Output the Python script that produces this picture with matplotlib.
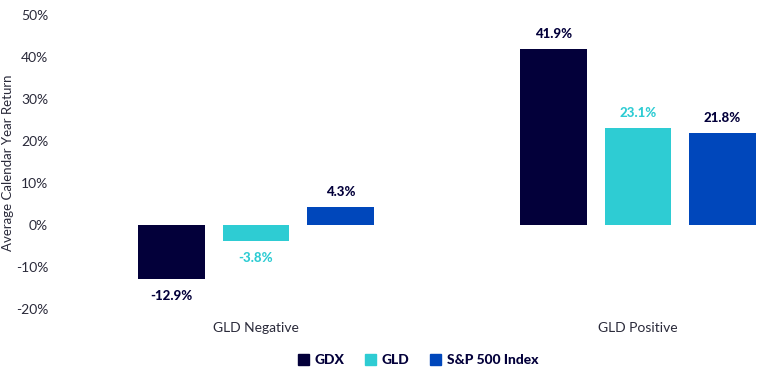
import matplotlib.pyplot as plt
from matplotlib.patches import Patch
import numpy as np

plt.rcParams['font.family'] = ['Lato', 'DejaVu Sans']

# data
groups = ["GLD Negative", "GLD Positive"]
series = ["GDX", "GLD", "S&P 500 Index"]
gdx = [-12.9, 41.9]
gld = [-3.8, 23.1]
spx = [4.3, 21.8]
colors = ["#03003A", "#2ECCD3", "#0047BB"]
label_colors = ["#03003A", "#2ECCD3", "#03003A"]
yticks = [-20, -10, 0, 10, 20, 30, 40, 50]

W, H = 762, 376
fig = plt.figure(figsize=(W / 100, H / 100), dpi=100)
ax = fig.add_axes([55 / W, 1 - 318 / H, (W - 55) / W, 308 / H])

x = np.arange(len(groups))
width = 0.175
offsets = [-0.221, 0, 0.221]
for vals, off, c, lc in zip([gdx, gld, spx], offsets, colors, label_colors):
    bars = ax.bar(x + off, vals, width, color=c)
    for b, v in zip(bars, vals):
        ax.annotate(f"{v:.1f}%", (b.get_x() + b.get_width() / 2, v),
                    xytext=(0, 11 if v >= 0 else -12), textcoords="offset points",
                    ha="center", va="center", fontsize=9.5, fontweight="black", color=lc)

ax.set_xlim((55 - 256) / 382, (W - 256) / 382)
ax.set_ylim((225 - 318) / 4.2, 50 + 5 / 4.2)
ax.set_yticks(yticks)
ax.set_yticklabels([f"{t}%" for t in yticks], fontsize=10, color="#2a2a3a")
ax.set_xticks(x)
ax.set_xticklabels(groups, fontsize=10, color="#2a2a3a")
ax.tick_params(length=0, pad=5)
ax.tick_params(axis="x", pad=3)
# y label placed directly on the figure so it sits at the far left
fig.text(8 / W, 1 - 163 / H, "Average Calendar Year Return", rotation=90,
         ha="center", va="center", fontsize=9.5, color="#2a2a3a")
for s in ax.spines.values():
    s.set_visible(False)

handles = [Patch(color=c, label=s) for c, s in zip(colors, series)]
leg = fig.legend(handles=handles, loc="center", bbox_to_anchor=(418 / W, 1 - 360 / H),
                 ncol=3, frameon=False, handlelength=0.8, handleheight=0.8,
                 handletextpad=0.4, columnspacing=1.5,
                 prop={"size": 10, "weight": "black"})
for t in leg.get_texts():
    t.set_color("#03003A")

fig.savefig("out.png", dpi=100)
